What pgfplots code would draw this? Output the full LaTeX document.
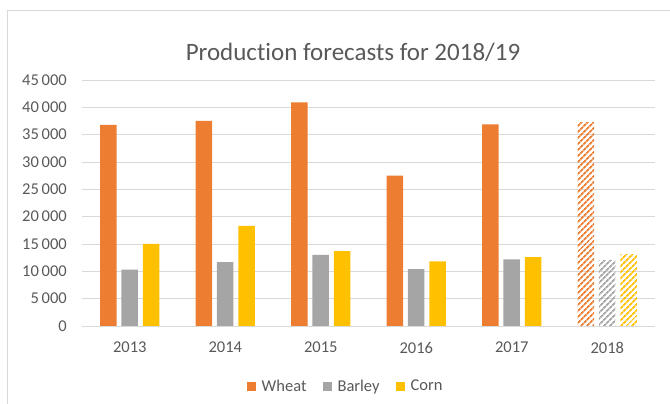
\documentclass[border=0pt]{standalone}
\usepackage{fontspec}
\setmainfont[Ligatures=NoCommon]{Carlito}
\usepackage{pgfplots}
\pgfplotsset{compat=1.18}
\usetikzlibrary{patterns.meta}
\definecolor{wheat}{HTML}{ED7D31}
\definecolor{barley}{HTML}{A5A5A5}
\definecolor{corn}{HTML}{FFC000}
\definecolor{txtgray}{HTML}{595959}
\definecolor{gridgray}{HTML}{D9D9D9}

\begin{document}
\begin{tikzpicture}[x=1pt,y=1pt]
\useasboundingbox (0,0) rectangle (670,404);
% chart frame (only left and top edges are visible)
\draw[gridgray, line width=1pt] (7,0) -- (7,393) -- (672,393);
\node[anchor=base, text=txtgray, font=\fontsize{25}{30}\selectfont] at (353,343) {Production forecasts for 2018/19};

\begin{axis}[
    at={(82pt,78pt)}, anchor=south west,
    scale only axis,
    width=573pt, height=246pt,
    xmin=-0.5, xmax=5.5,
    ymin=0, ymax=45000,
    ytick={0,5000,...,45000},
    scaled y ticks=false,
    xtick={0,1,2,3,4,5},
    xticklabels={2013,2014,2015,2016,2017,2018},
    major tick length=0pt,
    axis line style={draw=none},
    ymajorgrids=true,
    grid style={gridgray, line width=0.9pt},
    ticklabel style={text=txtgray, font=\fontsize{16.5}{20}\selectfont, inner sep=0pt},
    yticklabel style={xshift=-15pt, /pgf/number format/.cd, fixed, 1000 sep={\,}, assume math mode=true},
    xticklabel style={yshift=-16pt},
    ybar, bar width=16.5pt,
    legend columns=3,
    legend style={at={(0.46,-0.244)}, anchor=center, draw=none, fill=none,
        text=txtgray, font=\fontsize{16.5}{20}\selectfont, inner sep=0pt,
        /tikz/every odd column/.append style={column sep=4pt},
        /tikz/every even column/.append style={column sep=14pt}},
    legend image code/.code={\fill[#1] (0pt,-4.5pt) rectangle (9pt,4.5pt);},
]
% 2013-2017 reported values
\addplot[fill=wheat, draw=none, bar shift=-21.3pt] coordinates {(0,36800) (1,37500) (2,40900) (3,27500) (4,36900)};
\addlegendentry{Wheat}
\addplot[fill=barley, draw=none, bar shift=0pt] coordinates {(0,10300) (1,11700) (2,13000) (3,10400) (4,12200)};
\addlegendentry{Barley}
\addplot[fill=corn, draw=none, bar shift=21.3pt] coordinates {(0,15000) (1,18300) (2,13700) (3,11800) (4,12600)};
\addlegendentry{Corn}
% 2018 forecasts, hatched
\addplot[forget plot, draw=none, bar shift=-21.3pt, pattern={Lines[angle=45,distance=4pt,line width=1.9pt]}, pattern color=wheat] coordinates {(5,37300)};
\addplot[forget plot, draw=none, bar shift=0pt, pattern={Lines[angle=45,distance=4pt,line width=1.9pt]}, pattern color=barley] coordinates {(5,12000)};
\addplot[forget plot, draw=none, bar shift=21.3pt, pattern={Lines[angle=45,distance=4pt,line width=1.9pt]}, pattern color=corn] coordinates {(5,13100)};
\end{axis}
\end{tikzpicture}
\end{document}
